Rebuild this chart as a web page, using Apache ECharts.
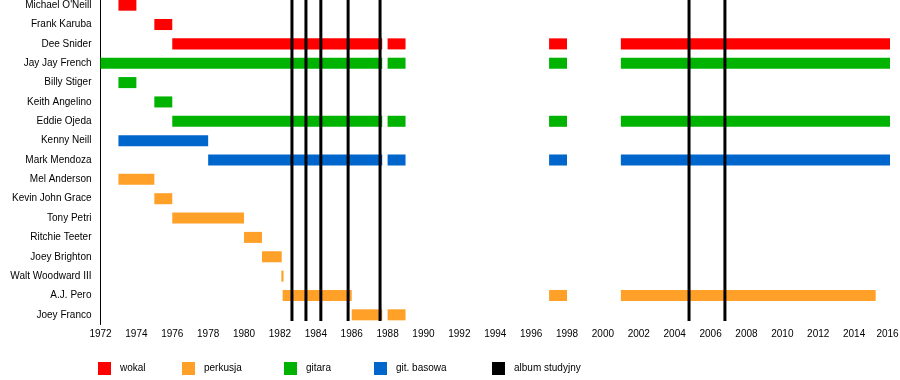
<!DOCTYPE html>
<html>
<head>
<meta charset="utf-8">
<script src="https://cdn.jsdelivr.net/npm/echarts@6/dist/echarts.min.js"></script>
<style>html,body{margin:0;padding:0;background:#fff}#c{width:900px;height:380px}</style>
</head>
<body>
<div id="c"></div>
<script>
const members = ["Michael O'Neill","Frank Karuba","Dee Snider","Jay Jay French","Billy Stiger","Keith Angelino","Eddie Ojeda","Kenny Neill","Mark Mendoza","Mel Anderson","Kevin John Grace","Tony Petri","Ritchie Teeter","Joey Brighton","Walt Woodward III","A.J. Pero","Joey Franco"];
const roleNames = ["wokal","perkusja","gitara","git. basowa","album studyjny"];
const vocals = [
  [1973,1974,"Michael O'Neill"],[1975,1976,"Frank Karuba"],
  [1976,1987.7,"Dee Snider"],[1988,1989,"Dee Snider"],[1997,1998,"Dee Snider"],[2001,2016,"Dee Snider"]
];
const drums = [
  [1973,1975,"Mel Anderson"],[1975,1976,"Kevin John Grace"],[1976,1980,"Tony Petri"],
  [1980,1981,"Ritchie Teeter"],[1981,1982.1,"Joey Brighton"],[1982.08,1982.2,"Walt Woodward III"],
  [1982.15,1986,"A.J. Pero"],[1997,1998,"A.J. Pero"],[2001,2015.2,"A.J. Pero"],
  [1986,1987.7,"Joey Franco"],[1988,1989,"Joey Franco"]
];
const guitar = [
  [1972,1987.7,"Jay Jay French"],[1988,1989,"Jay Jay French"],[1997,1998,"Jay Jay French"],[2001,2016,"Jay Jay French"],
  [1973,1974,"Billy Stiger"],[1975,1976,"Keith Angelino"],
  [1976,1987.7,"Eddie Ojeda"],[1988,1989,"Eddie Ojeda"],[1997,1998,"Eddie Ojeda"],[2001,2016,"Eddie Ojeda"]
];
const bass = [
  [1973,1978,"Kenny Neill"],
  [1978,1987.7,"Mark Mendoza"],[1988,1989,"Mark Mendoza"],[1997,1998,"Mark Mendoza"],[2001,2016,"Mark Mendoza"]
];
const albums = [1982.67,1983.45,1984.28,1985.8,1987.58,2004.8,2006.8];
const yearMin = 1972, yearMax = 2016;

const colors = ['#FF0000','#FFA028','#00B300','#0066CC','#000000'];
const FONT = '"Liberation Sans", Arial, sans-serif';

function renderBar(params, api){
  const cat = api.value(2);
  const s = api.coord([api.value(0), cat]);
  const e = api.coord([api.value(1), cat]);
  const h = api.size([0,1])[1] * 0.57;
  return {type:'rect', shape:{x:s[0], y:s[1]-h/2, width:e[0]-s[0], height:h}, style:api.style()};
}
function renderAlbum(params, api){
  const p = api.coord([api.value(0), 0]);
  const cs = params.coordSys;
  return {type:'line', shape:{x1:p[0], y1:cs.y, x2:p[0], y2:cs.y+cs.height-3.5},
    style:{stroke:'#000', lineWidth:3}};
}
function barSeries(name, data, color){
  return {type:'custom', name:name, renderItem:renderBar, itemStyle:{color:color},
    encode:{x:[0,1], y:2}, data:data, z:2};
}
const legendLefts = [98,182,284,374,492];
const chart = echarts.init(document.getElementById('c'), null, {renderer:'canvas'});
chart.setOption({
  animation:false,
  textStyle:{fontFamily:FONT},
  grid:{left:100.5, width:789.5, top:-4.5, height:329, containLabel:false, outerBoundsMode:'none'},
  xAxis:{type:'value', min:yearMin, max:yearMax, interval:1, offset:-3.5,
    axisLine:{onZero:false, lineStyle:{color:'#000', width:1}},
    axisTick:{length:5, lineStyle:{color:'#000'}},
    axisLabel:{fontSize:10, color:'#000', margin:8, fontFamily:FONT,
      formatter:v => (v % 2 !== 0 ? '' : (v === yearMax ? '{last|' + v + '}' : String(v))),
      rich:{last:{fontSize:10, color:'#000', fontFamily:FONT, padding:[0,5,0,0]}}},
    splitLine:{show:false}},
  yAxis:{type:'category', data:members, inverse:true,
    axisLine:{onZero:false, lineStyle:{color:'#000', width:1}},
    axisTick:{show:false},
    axisLabel:{fontSize:10, color:'#000', margin:9, fontFamily:FONT},
    splitLine:{show:false}},
  legend: roleNames.map((n,i) => ({
    left:legendLefts[i], top:362, padding:0, itemGap:0, itemWidth:13, itemHeight:13,
    icon:'rect', data:[n], selectedMode:false,
    textStyle:{fontSize:10, color:'#000', fontFamily:FONT, padding:[0,0,0,4]}
  })),
  series:[
    barSeries(roleNames[0], vocals, colors[0]),
    barSeries(roleNames[1], drums, colors[1]),
    barSeries(roleNames[2], guitar, colors[2]),
    barSeries(roleNames[3], bass, colors[3]),
    {type:'custom', name:roleNames[4], renderItem:renderAlbum, itemStyle:{color:colors[4]},
      encode:{x:0}, data:albums.map(a => [a]), z:5}
  ]
});
</script>
</body>
</html>
